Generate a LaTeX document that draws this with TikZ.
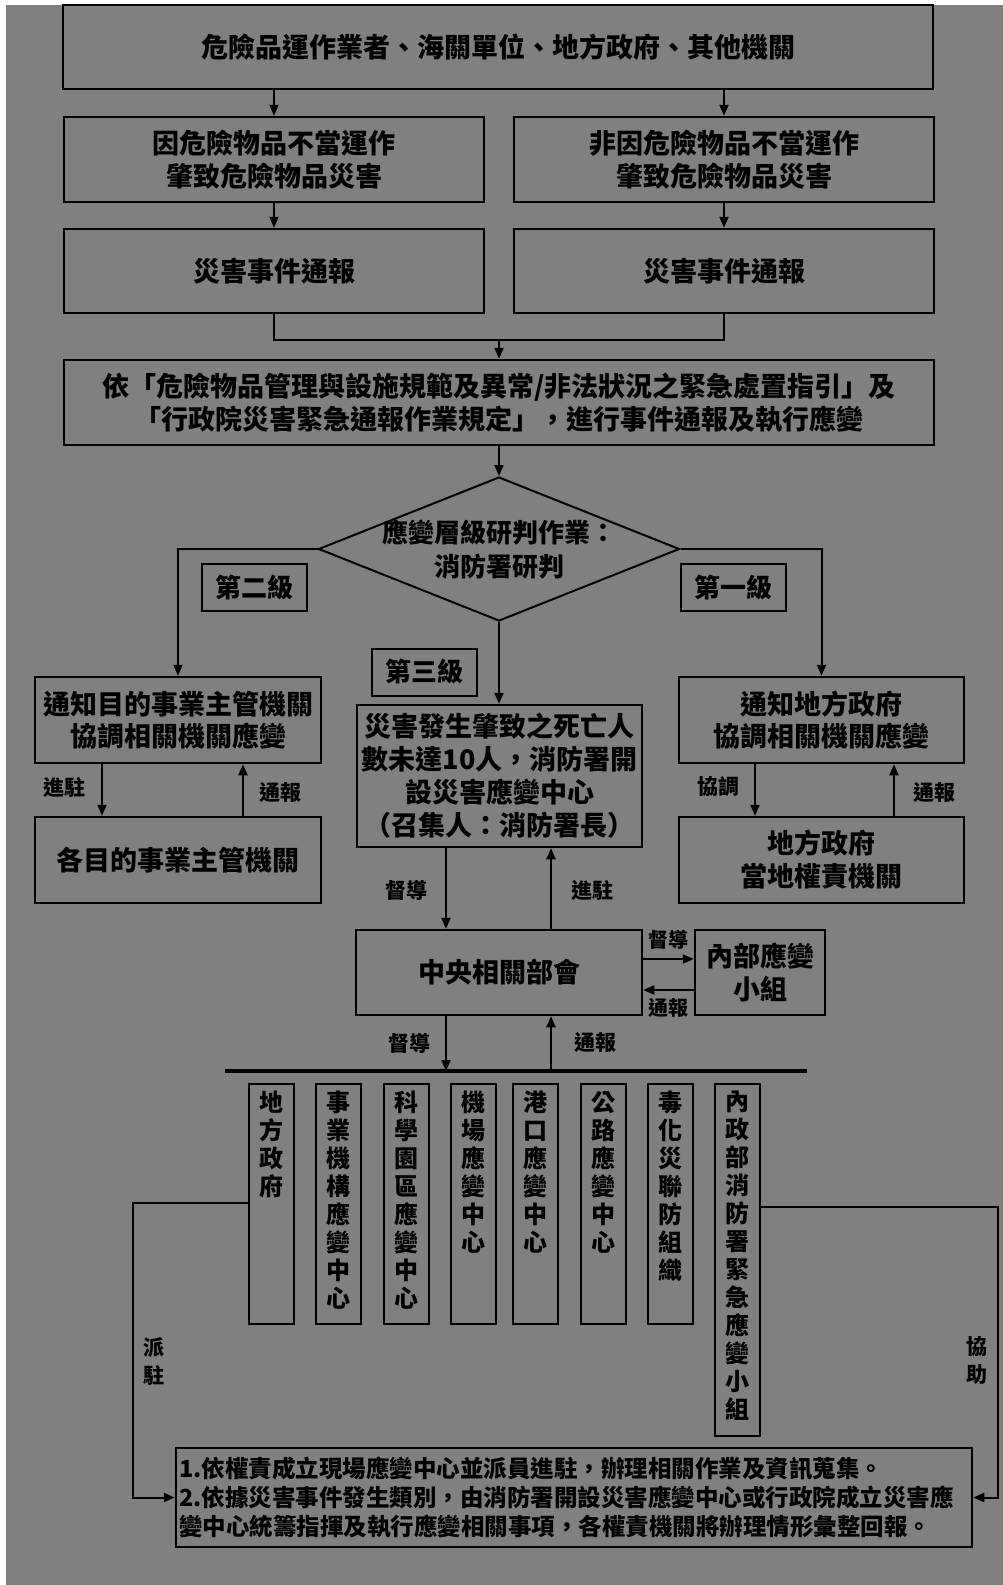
\documentclass[tikz,border=0pt]{standalone}
\usepackage{fontspec}
\newfontfamily\cjkx{Noto Sans CJK TC}
\newcommand{\cjk}{\cjkx\bfseries}
\usetikzlibrary{arrows.meta,shapes.geometric}
\definecolor{bggray}{RGB}{128,128,128}
\newcommand{\myvt}[2]{\parbox[c][#1][t]{40pt}{\centering\vspace*{7pt}#2}}
\begin{document}
\begin{tikzpicture}[x=1pt,y=-1pt,
  box/.style={draw=black,line width=2.5pt,rectangle,inner sep=0pt,align=center,font=\cjk\fontsize{27}{33}\selectfont},
  lvbox/.style={draw=black,line width=2pt,rectangle,inner sep=0pt,align=center,minimum width=105pt,minimum height=47pt,font=\cjk\fontsize{26}{30}\selectfont},
  vbox/.style={draw=black,line width=2pt,rectangle,inner sep=0pt,anchor=north,minimum width=45pt,font=\cjk\fontsize{24}{28}\selectfont},
  txt/.style={inner sep=0pt,align=center,font=\cjk\fontsize{26}{34}\selectfont},
  lab/.style={inner sep=0pt,align=center,font=\cjk\fontsize{21}{28}\selectfont},
  conn/.style={line width=2pt},
  arr/.style={conn,-{Triangle[length=11pt,width=9pt]}}]
\useasboundingbox (0,0) rectangle (1003,1585);
\fill[white] (0,0) rectangle (1003,1585);
\fill[bggray] (6,5) rectangle (1003,1585);

% top rows
\node[box,minimum width=870pt,minimum height=84pt] (top) at (498,47) {危險品運作業者、海關單位、地方政府、其他機關};
\node[box,minimum width=420pt,minimum height=85pt] (r2l) at (274,159.5) {因危險物品不當運作\\肇致危險物品災害};
\node[box,minimum width=420pt,minimum height=85pt] (r2r) at (724,159.5) {非因危險物品不當運作\\肇致危險物品災害};
\node[box,minimum width=420pt,minimum height=84pt] (r3l) at (274,271) {災害事件通報};
\node[box,minimum width=420pt,minimum height=84pt] (r3r) at (724,271) {災害事件通報};
\node[box,minimum width=870pt,minimum height=85pt] (b4) at (499,402.5) {依「危險物品管理與設施規範及異常/非法狀況之緊急處置指引」及\\「行政院災害緊急通報作業規定」，進行事件通報及執行應變};

% diamond
\node[draw=black,line width=2pt,diamond,minimum width=361pt,minimum height=144pt,inner sep=0pt] (dia) at (499,549) {};
\node[txt] (diat) at (499,550) {應變層級研判作業：\\消防署研判};

\node[lvbox] (lv2) at (254.5,587.5) {第二級};
\node[lvbox] (lv1) at (733.5,587.5) {第一級};
\node[lvbox] (lv3) at (424.5,672) {第三級};

% level boxes
\node[box,minimum width=286pt,minimum height=86pt,font=\cjk\fontsize{27}{32}\selectfont] (l1) at (178,720) {通知目的事業主管機關\\協調相關機關應變};
\node[box,minimum width=286pt,minimum height=86pt] (l2) at (178,860) {各目的事業主管機關};
\node[box,minimum width=285pt,minimum height=86pt,font=\cjk\fontsize{27}{32}\selectfont] (rr1) at (821.5,720) {通知地方政府\\協調相關機關應變};
\node[box,minimum width=285pt,minimum height=86pt] (rr2) at (821.5,860) {地方政府\\當地權責機關};
\node[box,minimum width=285pt,minimum height=142pt] (cbox) at (499.5,776) {災害發生肇致之死亡人\\數未達10人，消防署開\\設災害應變中心\\（召集人：消防署長）};
\node[box,minimum width=286pt,minimum height=85pt] (mid) at (499,972.5) {中央相關部會};
\node[box,minimum width=130pt,minimum height=85pt] (inner) at (760,972.5) {內部應變\\小組};

% vertical boxes
\node[vbox] (v1) at (271.5,1083) {\myvt{240pt}{地\\方\\政\\府}};
\node[vbox] (v2) at (338.5,1083) {\myvt{240pt}{事\\業\\機\\構\\應\\變\\中\\心}};
\node[vbox] (v3) at (406.5,1083) {\myvt{240pt}{科\\學\\園\\區\\應\\變\\中\\心}};
\node[vbox] (v4) at (473.5,1083) {\myvt{240pt}{機\\場\\應\\變\\中\\心}};
\node[vbox] (v5) at (535,1083) {\myvt{240pt}{港\\口\\應\\變\\中\\心}};
\node[vbox] (v6) at (603,1083) {\myvt{240pt}{公\\路\\應\\變\\中\\心}};
\node[vbox] (v7) at (670,1083) {\myvt{240pt}{毒\\化\\災\\聯\\防\\組\\織}};
\node[vbox] (v8) at (737.5,1083) {\myvt{352pt}{內\\政\\部\\消\\防\\署\\緊\\急\\應\\變\\小\\組}};

% bottom box
\node[box,minimum width=796pt,minimum height=99pt,align=left,text width=790pt,font=\cjk\fontsize{23.5}{29}\selectfont] (bot) at (574,1497.5) {1.依權責成立現場應變中心並派員進駐，辦理相關作業及資訊蒐集。\\2.依據災害事件發生類別，由消防署開設災害應變中心或行政院成立災害應\\變中心統籌指揮及執行應變相關事項，各權責機關將辦理情形彙整回報。};

% connectors top
\draw[arr] (top.south -| r2l.north) -- (r2l.north);
\draw[arr] (top.south -| r2r.north) -- (r2r.north);
\draw[arr] (r2l.south) -- (r3l.north);
\draw[arr] (r2r.south) -- (r3r.north);
\coordinate (join) at (499,340);
\draw[conn] (r3l.south) |- (join) -| (r3r.south);
\draw[arr] (join) -- (b4.north);
\draw[arr] (b4.south) -- (dia.north);
\draw[arr] (dia.west) -| (l1.north);
\draw[arr] (dia.east) -| (rr1.north);
\draw[arr] (dia.south) -- (dia.south |- cbox.north);

% left pair
\draw[arr] ([xshift=-76pt]l1.south) -- ([xshift=-76pt]l2.north);
\draw[arr] ([xshift=65pt]l2.north) -- ([xshift=65pt]l1.south);
\node[lab] (lbA) at (64,787) {進駐};
\node[lab] (lbB) at (280,793) {通報};
% right pair
\draw[arr] ([xshift=-66.5pt]rr1.south) -- ([xshift=-66.5pt]rr2.north);
\draw[arr] ([xshift=72.5pt]rr2.north) -- ([xshift=72.5pt]rr1.south);
\node[lab] (lbC) at (718,787) {協調};
\node[lab] (lbD) at (934,793) {通報};
% center pair
\draw[arr] ([xshift=-53.5pt]cbox.south) -- ([xshift=-53.5pt]cbox.south |- mid.north);
\draw[arr] ([xshift=51.5pt]cbox.south |- mid.north) -- ([xshift=51.5pt]cbox.south);
\node[lab] (lbE) at (406,890) {督導};
\node[lab] (lbF) at (592,890) {進駐};
% mid <-> inner
\draw[arr] ([yshift=13.5pt]mid.east) -- ([yshift=13.5pt]mid.east -| inner.west);
\draw[arr] ([yshift=-17.5pt]inner.west) -- ([yshift=-17.5pt]inner.west -| mid.east);
\node[lab,font=\cjk\fontsize{20}{24}\selectfont] (lbG) at (668,940) {督導};
\node[lab,font=\cjk\fontsize{20}{24}\selectfont] (lbH) at (668,1008) {通報};
% bar
\coordinate (barL) at (225,1071);
\coordinate (barR) at (807,1071);
\draw[line width=3.5pt] (barL) -- (barR);
\draw[arr] ([xshift=-53pt]mid.south) -- ([xshift=-53pt]mid.south |- barL);
\draw[arr] ([xshift=52pt]mid.south |- barL) -- ([xshift=52pt]mid.south);
\node[lab] (lbI) at (409,1043) {督導};
\node[lab] (lbJ) at (595,1043) {通報};
% side connectors
\coordinate (pl) at (133,1203);
\coordinate (pr) at (998,1207);
\draw[arr] (v1.west |- pl) -- (pl) |- (bot.west);
\draw[arr] (v8.east |- pr) -- (pr) |- (bot.east);
\node[lab] (lbK) at (154,1361) {派\\駐};
\node[lab] (lbL) at (977,1361) {協\\助};
\end{tikzpicture}
\end{document}
